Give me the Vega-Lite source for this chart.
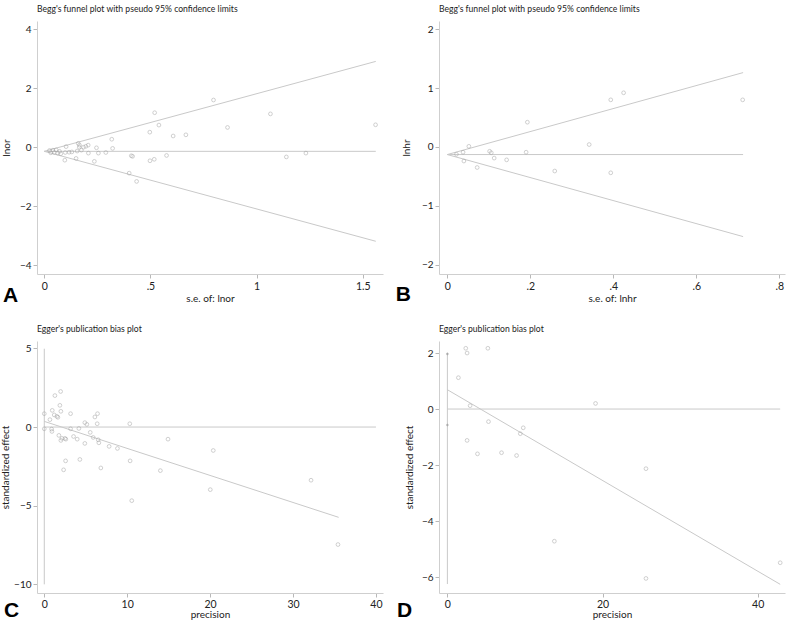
{
  "$schema": "https://vega.github.io/schema/vega-lite/v6.json",
  "background": "white",
  "padding": {"left": 0, "top": 5, "right": 2, "bottom": 0},
  "config": {
    "view": {"stroke": null},
    "font": "Lato",
    "axis": {"grid": false, "domainColor": "#cfcfcf", "tickColor": "#b8b8b8", "tickSize": 4, "labelColor": "#222", "labelFontSize": 10.5, "titleFontSize": 10, "titleFontWeight": "normal", "titleColor": "#222", "labelPadding": 2, "format": "~r"},
    "axisY": {"labelFontSize": 10},
    "title": {"fontSize": 8.6, "fontWeight": "normal", "anchor": "start", "frame": "group", "color": "#222", "offset": 7}
  },
  "datasets": {
    "a": [
      {"x": 0.025, "y": -0.11}, {"x": 0.031, "y": -0.19}, {"x": 0.041, "y": -0.10}, {"x": 0.047, "y": -0.18},
      {"x": 0.056, "y": -0.09}, {"x": 0.063, "y": -0.20}, {"x": 0.072, "y": -0.14}, {"x": 0.078, "y": -0.22},
      {"x": 0.099, "y": -0.18}, {"x": 0.103, "y": 0.02}, {"x": 0.097, "y": -0.44}, {"x": 0.117, "y": -0.17},
      {"x": 0.130, "y": -0.16}, {"x": 0.150, "y": -0.38}, {"x": 0.155, "y": -0.13}, {"x": 0.160, "y": 0.13},
      {"x": 0.166, "y": 0.07}, {"x": 0.165, "y": 0.0}, {"x": 0.175, "y": -0.10}, {"x": 0.185, "y": 0.0},
      {"x": 0.196, "y": 0.03}, {"x": 0.207, "y": 0.07}, {"x": 0.208, "y": -0.20}, {"x": 0.236, "y": -0.48},
      {"x": 0.246, "y": -0.02}, {"x": 0.255, "y": -0.20}, {"x": 0.290, "y": -0.18}, {"x": 0.318, "y": 0.27},
      {"x": 0.322, "y": -0.04}, {"x": 0.400, "y": -0.88}, {"x": 0.410, "y": -0.29}, {"x": 0.416, "y": -0.31},
      {"x": 0.435, "y": -1.16}, {"x": 0.497, "y": 0.51}, {"x": 0.498, "y": -0.46}, {"x": 0.518, "y": -0.41},
      {"x": 0.520, "y": 1.17}, {"x": 0.540, "y": 0.75}, {"x": 0.576, "y": -0.28}, {"x": 0.607, "y": 0.38},
      {"x": 0.667, "y": 0.42}, {"x": 0.797, "y": 1.60}, {"x": 0.863, "y": 0.67}, {"x": 1.065, "y": 1.13},
      {"x": 1.140, "y": -0.33}, {"x": 1.232, "y": -0.20}, {"x": 1.560, "y": 0.76}
    ],
    "b": [
      {"x": 0.022, "y": -0.125}, {"x": 0.038, "y": -0.09}, {"x": 0.040, "y": -0.24}, {"x": 0.052, "y": 0.01},
      {"x": 0.072, "y": -0.35}, {"x": 0.102, "y": -0.074}, {"x": 0.106, "y": -0.10}, {"x": 0.113, "y": -0.19},
      {"x": 0.143, "y": -0.22}, {"x": 0.190, "y": -0.09}, {"x": 0.193, "y": 0.42}, {"x": 0.259, "y": -0.41},
      {"x": 0.342, "y": 0.04}, {"x": 0.394, "y": 0.80}, {"x": 0.394, "y": -0.44}, {"x": 0.425, "y": 0.92},
      {"x": 0.712, "y": 0.80}
    ],
    "c": [
      {"x": 0.68, "y": 0.47}, {"x": 0.88, "y": -0.13}, {"x": 0.92, "y": -0.28}, {"x": 0.96, "y": 1.06},
      {"x": 1.2, "y": 0.77}, {"x": 1.28, "y": 2.0}, {"x": 1.52, "y": 0.68}, {"x": 1.64, "y": 0.62},
      {"x": 1.76, "y": -0.53}, {"x": 1.88, "y": 1.38}, {"x": 1.97, "y": 2.26}, {"x": 2.0, "y": 1.0},
      {"x": 2.0, "y": -0.85}, {"x": 2.13, "y": -0.72}, {"x": 2.33, "y": -2.72}, {"x": 2.49, "y": -0.72},
      {"x": 2.57, "y": -2.15}, {"x": 2.6, "y": -0.77}, {"x": 3.17, "y": 0.85}, {"x": 3.17, "y": -0.11},
      {"x": 3.53, "y": -0.6}, {"x": 3.97, "y": -0.77}, {"x": 4.17, "y": -0.09}, {"x": 4.29, "y": -2.06},
      {"x": 4.89, "y": 0.28}, {"x": 4.89, "y": -1.04}, {"x": 5.13, "y": 0.17}, {"x": 5.54, "y": -0.34},
      {"x": 5.9, "y": -0.66}, {"x": 6.1, "y": 0.64}, {"x": 6.42, "y": 0.85}, {"x": 6.38, "y": 0.21},
      {"x": 6.5, "y": -0.81}, {"x": 6.58, "y": -1.0}, {"x": 6.82, "y": -2.6}, {"x": 7.82, "y": -1.23},
      {"x": 8.82, "y": -1.36}, {"x": 10.31, "y": 0.21}, {"x": 10.35, "y": -2.15}, {"x": 10.55, "y": -4.68},
      {"x": 14.0, "y": -2.77}, {"x": 14.92, "y": -0.77}, {"x": 20.02, "y": -3.98}, {"x": 20.38, "y": -1.49},
      {"x": 32.17, "y": -3.38}, {"x": 35.42, "y": -7.47}
    ],
    "d": [
      {"x": 1.42, "y": 1.12}, {"x": 2.37, "y": 2.17}, {"x": 2.54, "y": 2.0}, {"x": 2.54, "y": -1.12},
      {"x": 2.93, "y": 0.12}, {"x": 3.88, "y": -1.6}, {"x": 5.22, "y": 2.17}, {"x": 5.3, "y": -0.45},
      {"x": 6.98, "y": -1.56}, {"x": 9.4, "y": -0.88}, {"x": 8.92, "y": -1.66}, {"x": 9.78, "y": -0.67},
      {"x": 13.79, "y": -4.72}, {"x": 19.1, "y": 0.2}, {"x": 25.6, "y": -2.13}, {"x": 25.6, "y": -6.05},
      {"x": 42.9, "y": -5.49}
    ],
    "ci": [
      {"panel": "C", "x": 0, "y": 0.85}, {"panel": "C", "x": 0, "y": -0.11},
      {"panel": "D", "x": 0, "y": 1.97}, {"panel": "D", "x": 0, "y": -0.57}
    ],
    "lines": [
      {"panel": "A", "series": "upper", "x": 0, "y": -0.14}, {"panel": "A", "series": "upper", "x": 1.561, "y": 2.91},
      {"panel": "A", "series": "lower", "x": 0, "y": -0.14}, {"panel": "A", "series": "lower", "x": 1.561, "y": -3.19},
      {"panel": "A", "series": "center", "x": 0, "y": -0.14}, {"panel": "A", "series": "center", "x": 1.561, "y": -0.14},
      {"panel": "B", "series": "upper", "x": 0, "y": -0.13}, {"panel": "B", "series": "upper", "x": 0.713, "y": 1.263},
      {"panel": "B", "series": "lower", "x": 0, "y": -0.13}, {"panel": "B", "series": "lower", "x": 0.713, "y": -1.524},
      {"panel": "B", "series": "center", "x": 0, "y": -0.13}, {"panel": "B", "series": "center", "x": 0.713, "y": -0.13},
      {"panel": "C", "series": "vertical", "x": 0, "y": 4.98}, {"panel": "C", "series": "vertical", "x": 0, "y": -10},
      {"panel": "C", "series": "zero", "x": 0, "y": 0}, {"panel": "C", "series": "zero", "x": 40, "y": 0},
      {"panel": "C", "series": "fit", "x": 0, "y": 0.36}, {"panel": "C", "series": "fit", "x": 35.5, "y": -5.74},
      {"panel": "D", "series": "vertical", "x": 0, "y": 2.0}, {"panel": "D", "series": "vertical", "x": 0, "y": -6.25},
      {"panel": "D", "series": "zero", "x": 0, "y": 0}, {"panel": "D", "series": "zero", "x": 42.9, "y": 0},
      {"panel": "D", "series": "fit", "x": 0, "y": 0.69}, {"panel": "D", "series": "fit", "x": 42.9, "y": -6.26}
    ],
    "letters": [
      {"panel": "A", "label": "A", "x": -0.194, "y": -5.24},
      {"panel": "B", "label": "B", "x": -0.124, "y": -2.615},
      {"panel": "C", "label": "C", "x": -4.85, "y": -12.1},
      {"panel": "D", "label": "D", "x": -6.5, "y": -7.44}
    ]
  },
  "columns": 2,
  "spacing": {"row": 67, "column": 56},
  "bounds": "flush",
  "concat": [
    {
      "width": 346, "height": 253,
      "title": {"text": "Begg's funnel plot with pseudo 95% confidence limits"},
      "layer": [
        {"data": {"name": "lines"}, "transform": [{"filter": "datum.panel == 'A'"}],
         "mark": {"type": "line", "color": "#c9c9c9", "strokeWidth": 1},
         "encoding": {
           "x": {"field": "x", "type": "quantitative", "scale": {"domain": [-0.034, 1.595], "nice": false, "zero": false},
                 "axis": {"values": [0, 0.5, 1, 1.5], "title": "s.e. of: lnor", "labelExpr": "datum.value > 0 && datum.value < 1 ? substring(datum.label, 1) : datum.label", "titlePadding": 2, "labelPadding": 3}},
           "y": {"field": "y", "type": "quantitative", "scale": {"domain": [-4.3, 4.28], "nice": false, "zero": false},
                 "axis": {"values": [-4, -2, 0, 2, 4], "title": "lnor", "titlePadding": 8}},
           "detail": {"field": "series"}}},
        {"data": {"name": "a"},
         "mark": {"type": "point", "shape": "circle", "filled": false, "color": "#a0a0a0", "strokeWidth": 0.7, "size": 14},
         "encoding": {"x": {"field": "x", "type": "quantitative"}, "y": {"field": "y", "type": "quantitative"}}},
        {"data": {"name": "letters"}, "transform": [{"filter": "datum.panel == 'A'"}],
         "mark": {"type": "text", "font": "Liberation Sans", "fontWeight": "bold", "fontSize": 21, "align": "left", "baseline": "alphabetic", "color": "#000", "clip": false},
         "encoding": {"x": {"field": "x", "type": "quantitative"}, "y": {"field": "y", "type": "quantitative"}, "text": {"field": "label"}}}
      ]
    },
    {
      "width": 346, "height": 253,
      "title": {"text": "Begg's funnel plot with pseudo 95% confidence limits"},
      "layer": [
        {"data": {"name": "lines"}, "transform": [{"filter": "datum.panel == 'B'"}],
         "mark": {"type": "line", "color": "#c9c9c9", "strokeWidth": 1},
         "encoding": {
           "x": {"field": "x", "type": "quantitative", "scale": {"domain": [-0.02, 0.814], "nice": false, "zero": false},
                 "axis": {"values": [0, 0.2, 0.4, 0.6, 0.8], "title": "s.e. of: lnhr", "labelExpr": "datum.value > 0 && datum.value < 1 ? substring(datum.label, 1) : datum.label", "titlePadding": 2, "labelPadding": 3}},
           "y": {"field": "y", "type": "quantitative", "scale": {"domain": [-2.16, 2.14], "nice": false, "zero": false},
                 "axis": {"values": [-2, -1, 0, 1, 2], "title": "lnhr", "titlePadding": 10}},
           "detail": {"field": "series"}}},
        {"data": {"name": "b"},
         "mark": {"type": "point", "shape": "circle", "filled": false, "color": "#a0a0a0", "strokeWidth": 0.7, "size": 14},
         "encoding": {"x": {"field": "x", "type": "quantitative"}, "y": {"field": "y", "type": "quantitative"}}},
        {"data": {"name": "letters"}, "transform": [{"filter": "datum.panel == 'B'"}],
         "mark": {"type": "text", "font": "Liberation Sans", "fontWeight": "bold", "fontSize": 21, "align": "left", "baseline": "alphabetic", "color": "#000", "clip": false},
         "encoding": {"x": {"field": "x", "type": "quantitative"}, "y": {"field": "y", "type": "quantitative"}, "text": {"field": "label"}}}
      ]
    },
    {
      "width": 346, "height": 252,
      "title": {"text": "Egger's publication bias plot"},
      "layer": [
        {"data": {"name": "lines"}, "transform": [{"filter": "datum.panel == 'C'"}],
         "mark": {"type": "line", "color": "#c9c9c9", "strokeWidth": 1},
         "encoding": {
           "x": {"field": "x", "type": "quantitative", "scale": {"domain": [-0.88, 40.85], "nice": false, "zero": false},
                 "axis": {"values": [0, 10, 20, 30, 40], "title": "precision", "titlePadding": 0, "labelPadding": 2}},
           "y": {"field": "y", "type": "quantitative", "scale": {"domain": [-10.55, 5.47], "nice": false, "zero": false},
                 "axis": {"values": [-10, -5, 0, 5], "title": "standardized effect", "titlePadding": 3}},
           "detail": {"field": "series"}}},
        {"data": {"name": "c"},
         "mark": {"type": "point", "shape": "circle", "filled": false, "color": "#a0a0a0", "strokeWidth": 0.7, "size": 14},
         "encoding": {"x": {"field": "x", "type": "quantitative"}, "y": {"field": "y", "type": "quantitative"}}},
        {"data": {"name": "ci"}, "transform": [{"filter": "datum.panel == 'C'"}],
         "mark": {"type": "point", "shape": "circle", "filled": false, "color": "#a0a0a0", "strokeWidth": 0.7, "size": 14},
         "encoding": {"x": {"field": "x", "type": "quantitative"}, "y": {"field": "y", "type": "quantitative"}}},
        {"data": {"name": "letters"}, "transform": [{"filter": "datum.panel == 'C'"}],
         "mark": {"type": "text", "font": "Liberation Sans", "fontWeight": "bold", "fontSize": 21, "align": "left", "baseline": "alphabetic", "color": "#000", "clip": false},
         "encoding": {"x": {"field": "x", "type": "quantitative"}, "y": {"field": "y", "type": "quantitative"}, "text": {"field": "label"}}}
      ]
    },
    {
      "width": 346, "height": 252,
      "title": {"text": "Egger's publication bias plot"},
      "layer": [
        {"data": {"name": "lines"}, "transform": [{"filter": "datum.panel == 'D'"}],
         "mark": {"type": "line", "color": "#c9c9c9", "strokeWidth": 1},
         "encoding": {
           "x": {"field": "x", "type": "quantitative", "scale": {"domain": [-1.08, 43.52], "nice": false, "zero": false},
                 "axis": {"values": [0, 20, 40], "title": "precision", "titlePadding": 0, "labelPadding": 2}},
           "y": {"field": "y", "type": "quantitative", "scale": {"domain": [-6.57, 2.43], "nice": false, "zero": false},
                 "axis": {"values": [-6, -4, -2, 0, 2], "title": "standardized effect", "titlePadding": 7}},
           "detail": {"field": "series"}}},
        {"data": {"name": "d"},
         "mark": {"type": "point", "shape": "circle", "filled": false, "color": "#a0a0a0", "strokeWidth": 0.7, "size": 14},
         "encoding": {"x": {"field": "x", "type": "quantitative"}, "y": {"field": "y", "type": "quantitative"}}},
        {"data": {"name": "ci"}, "transform": [{"filter": "datum.panel == 'D'"}],
         "mark": {"type": "point", "shape": "diamond", "filled": true, "color": "#9a9a9a", "size": 10},
         "encoding": {"x": {"field": "x", "type": "quantitative"}, "y": {"field": "y", "type": "quantitative"}}},
        {"data": {"name": "letters"}, "transform": [{"filter": "datum.panel == 'D'"}],
         "mark": {"type": "text", "font": "Liberation Sans", "fontWeight": "bold", "fontSize": 21, "align": "left", "baseline": "alphabetic", "color": "#000", "clip": false},
         "encoding": {"x": {"field": "x", "type": "quantitative"}, "y": {"field": "y", "type": "quantitative"}, "text": {"field": "label"}}}
      ]
    }
  ]
}
